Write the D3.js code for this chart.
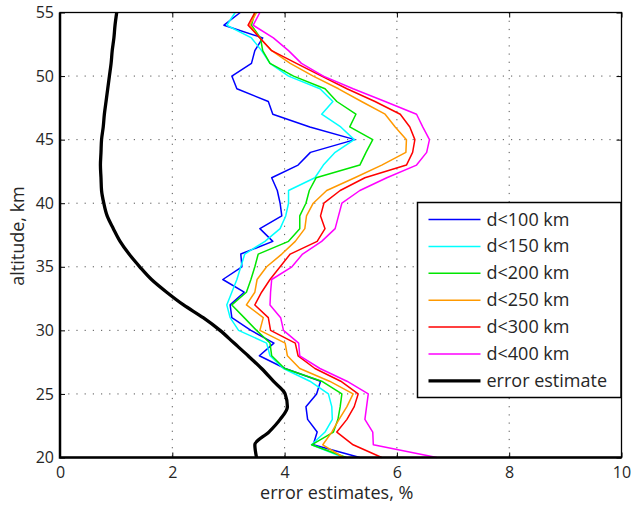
<!DOCTYPE html>
<html>
<head>
<meta charset="utf-8">
<script src="https://cdn.jsdelivr.net/npm/d3@7"></script>
<style>
  body { margin: 0; background: #fff; }
  text { font-family: "Open Sans", sans-serif; fill: #262626; }
</style>
</head>
<body>
<div id="chart"></div>
<script>
const altitudes = [20, 21, 22, 23, 24, 25, 26, 27, 28, 29, 30, 31, 32, 33, 34, 35, 36, 37,
  38, 39, 40, 41, 42, 43, 44, 45, 46, 47, 48, 49, 50, 51, 52, 53, 54, 55];

const d100 = [5.34, 4.51, 4.58, 4.41, 4.38, 4.57, 4.64, 4.01, 3.55, 3.81, 3.40, 3.06, 3.03, 3.28, 2.90, 3.24, 3.22, 3.79,
  3.56, 3.95, 3.92, 3.87, 3.77, 4.24, 4.46, 5.25, 4.45, 3.79, 3.71, 3.15, 3.06, 3.41, 3.47, 3.61, 2.92, 3.21];
const d150 = [5.05, 4.48, 4.72, 4.85, 4.84, 4.78, 4.45, 3.98, 3.74, 3.68, 3.18, 3.03, 2.97, 3.06, 3.15, 3.22, 3.29, 3.65,
  3.92, 4.02, 4.07, 4.07, 4.54, 4.69, 4.90, 5.24, 5.00, 4.66, 4.86, 4.63, 4.07, 3.74, 3.59, 3.41, 2.97, 3.12];
const d200 = [5.10, 4.48, 4.87, 4.95, 4.99, 5.02, 4.66, 4.00, 3.77, 3.74, 3.50, 3.28, 3.06, 3.32, 3.40, 3.47, 3.53, 4.07,
  4.27, 4.27, 4.38, 4.44, 4.56, 5.34, 5.45, 5.57, 5.16, 5.27, 4.93, 4.72, 4.16, 3.74, 3.61, 3.57, 3.41, 3.47];
const d250 = [5.05, 4.68, 4.84, 4.97, 5.11, 5.22, 4.80, 4.27, 4.05, 4.01, 3.56, 3.62, 3.32, 3.47, 3.51, 3.68, 3.95, 4.19,
  4.36, 4.39, 4.51, 4.75, 5.25, 5.73, 6.16, 6.17, 5.97, 5.79, 5.37, 4.96, 4.51, 4.10, 3.77, 3.56, 3.38, 3.50];
const d300 = [5.73, 5.22, 4.93, 5.11, 5.24, 5.31, 5.00, 4.54, 4.24, 4.19, 3.75, 3.71, 3.47, 3.59, 3.74, 3.92, 4.10, 4.58,
  4.72, 4.64, 4.70, 4.99, 5.43, 6.17, 6.28, 6.32, 6.23, 6.06, 5.61, 5.11, 4.66, 4.21, 3.77, 3.56, 3.35, 3.47];
const d400 = [6.71, 5.58, 5.57, 5.43, 5.46, 5.49, 5.11, 4.63, 4.27, 4.25, 3.98, 3.93, 3.74, 3.75, 3.77, 4.13, 4.32, 4.66,
  4.90, 4.96, 5.02, 5.34, 5.82, 6.35, 6.53, 6.58, 6.46, 6.35, 5.79, 5.22, 4.69, 4.30, 4.07, 3.80, 3.44, 3.56];
const errorEstimate = [3.50, 3.47, 3.72, 3.92, 4.05, 4.01, 3.80, 3.59, 3.35, 3.10, 2.85, 2.55, 2.20, 1.90, 1.63, 1.42, 1.23, 1.07,
  0.95, 0.84, 0.78, 0.74, 0.73, 0.72, 0.73, 0.74, 0.77, 0.79, 0.82, 0.85, 0.88, 0.91, 0.93, 0.96, 0.98, 1.01];

const seriesNames = ['d<100 km', 'd<150 km', 'd<200 km', 'd<250 km', 'd<300 km', 'd<400 km', 'error estimate'];
const seriesValues = [d100, d150, d200, d250, d300, d400, errorEstimate];
const seriesColors = ['#0000ff', '#00ffff', '#00e600', '#ff9900', '#ff0000', '#ff00ff', '#000000'];

const xTicks = [0, 2, 4, 6, 8, 10];
const yTicks = [20, 25, 30, 35, 40, 45, 50, 55];

const width = 632;
const height = 506;
const margin = { top: 12.5, right: 10.5, bottom: 48.5, left: 60 };
const innerWidth = width - margin.left - margin.right;
const innerHeight = height - margin.top - margin.bottom;

const svg = d3.select('#chart')
  .append('svg')
  .attr('width', width)
  .attr('height', height);

const chart = svg.append('g')
  .attr('transform', `translate(${margin.left}, ${margin.top})`);

const x = d3.scaleLinear().domain([0, 10]).range([0, innerWidth]);
const y = d3.scaleLinear().domain([20, 55]).range([innerHeight, 0]);

// dotted grid
chart.append('g')
  .selectAll('line')
  .data(xTicks.slice(1, -1))
  .enter()
  .append('line')
  .attr('x1', d => x(d)).attr('x2', d => x(d))
  .attr('y1', 0).attr('y2', innerHeight)
  .attr('stroke', '#555')
  .attr('stroke-width', 1)
  .attr('stroke-dasharray', '1.2,7');

chart.append('g')
  .selectAll('line')
  .data(yTicks.slice(1, -1))
  .enter()
  .append('line')
  .attr('y1', d => y(d)).attr('y2', d => y(d))
  .attr('x1', 0).attr('x2', innerWidth)
  .attr('stroke', '#555')
  .attr('stroke-width', 1)
  .attr('stroke-dasharray', '1.2,7');

// series
seriesValues.forEach((vals, i) => {
  const isError = i === seriesValues.length - 1;
  const line = d3.line()
    .x(d => x(d[0]))
    .y(d => y(d[1]))
    .curve(isError ? d3.curveMonotoneY : d3.curveLinear);
  chart.append('path')
    .datum(vals.map((v, j) => [v, altitudes[j]]))
    .attr('fill', 'none')
    .attr('stroke', seriesColors[i])
    .attr('stroke-width', isError ? 3.3 : 1.5)
    .attr('stroke-linejoin', 'round')
    .attr('d', line);
});

// axes with inward ticks
const xAxis = chart.append('g')
  .attr('transform', `translate(0, ${innerHeight})`)
  .call(d3.axisBottom(x).tickValues(xTicks).tickSize(-5).tickPadding(9).tickFormat(d3.format('d')));
const xTop = chart.append('g')
  .call(d3.axisTop(x).tickValues(xTicks).tickSize(-5));
const yAxis = chart.append('g')
  .call(d3.axisLeft(y).tickValues(yTicks).tickSize(-5).tickPadding(6).tickFormat(d3.format('d')));
const yRight = chart.append('g')
  .attr('transform', `translate(${innerWidth}, 0)`)
  .call(d3.axisRight(y).tickValues(yTicks).tickSize(-5));

xTop.selectAll('.tick text').remove();
yRight.selectAll('.tick text').remove();

[xAxis, xTop, yAxis, yRight].forEach(g => {
  g.select('.domain').remove();
  g.selectAll('.tick line').attr('stroke', '#000').attr('stroke-width', 1);
  g.selectAll('.tick text').style('font-size', '16px').attr('fill', '#262626');
});

// frame
chart.append('rect')
  .attr('width', innerWidth)
  .attr('height', innerHeight)
  .attr('fill', 'none')
  .attr('stroke', '#000')
  .attr('stroke-width', 1.3);
chart.append('path')
  .attr('d', `M0,0V${innerHeight}H${innerWidth}`)
  .attr('fill', 'none')
  .attr('stroke', '#000')
  .attr('stroke-width', 2.5);

// axis titles
svg.append('text')
  .attr('x', margin.left + innerWidth / 2 - 4)
  .attr('y', 499)
  .attr('text-anchor', 'middle')
  .style('font-size', '18px')
  .text('error estimates, %');

svg.append('text')
  .attr('transform', 'rotate(-90)')
  .attr('x', -236)
  .attr('y', 24)
  .attr('text-anchor', 'middle')
  .style('font-size', '18px')
  .text('altitude, km');

// legend
const legend = svg.append('g')
  .attr('transform', 'translate(417.5, 202.5)');

legend.append('rect')
  .attr('width', 203.5)
  .attr('height', 195)
  .attr('fill', '#fff')
  .attr('stroke', '#000')
  .attr('stroke-width', 1.5);

seriesNames.forEach((name, i) => {
  const row = legend.append('g')
    .attr('transform', `translate(0, ${17 + i * 26.9})`);
  row.append('line')
    .attr('x1', 11).attr('x2', 63)
    .attr('stroke', seriesColors[i])
    .attr('stroke-width', i === seriesNames.length - 1 ? 3.3 : 1.5);
  row.append('text')
    .attr('x', 69)
    .attr('y', 6)
    .style('font-size', '18px')
    .text(name);
});
</script>
</body>
</html>
